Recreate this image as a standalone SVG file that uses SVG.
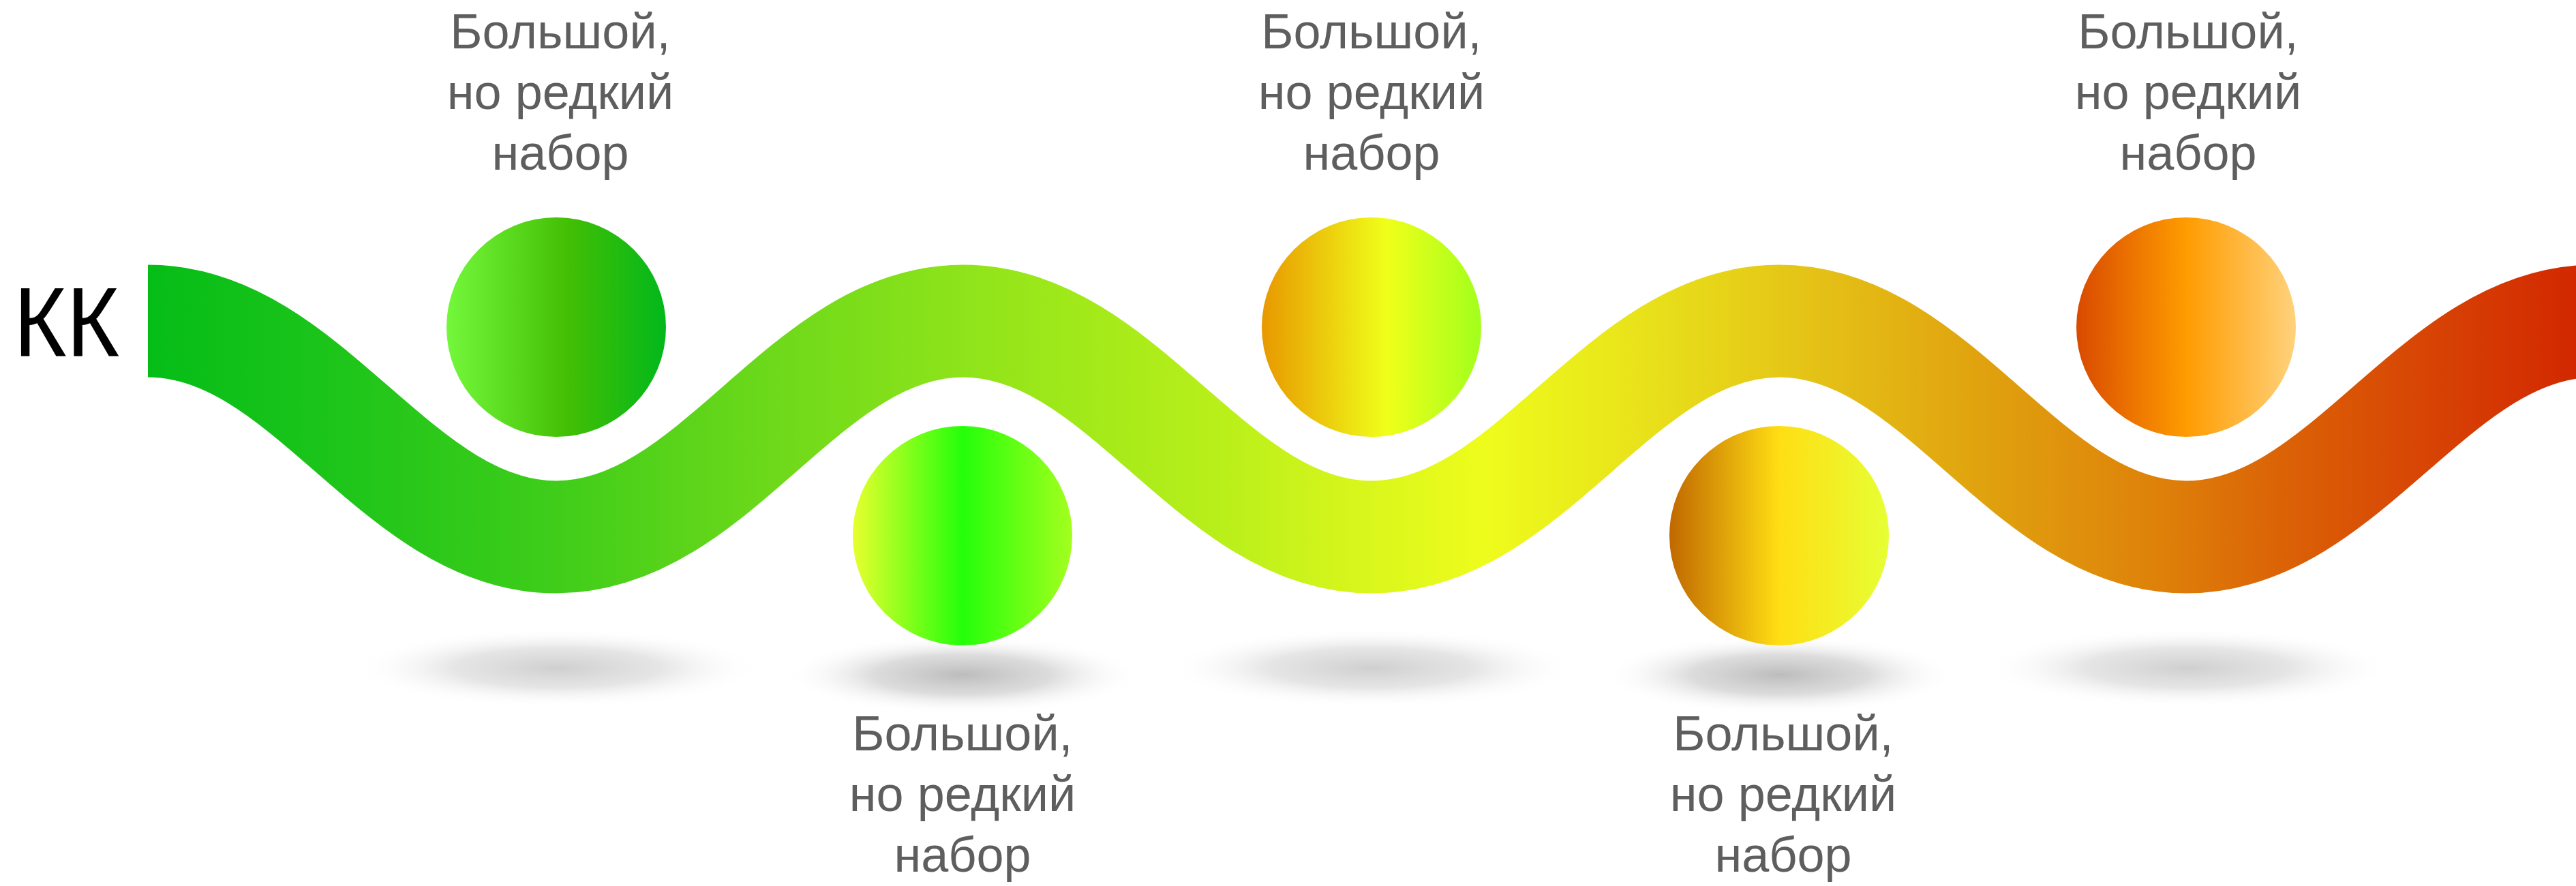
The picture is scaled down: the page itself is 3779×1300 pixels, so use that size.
<svg xmlns="http://www.w3.org/2000/svg" width="3779" height="1300" viewBox="0 0 3779 1300">
<style>
.lbl{font-family:"Liberation Sans",Arial,sans-serif;font-size:72px;fill:#5e5e5e;text-anchor:middle}
.kk{font-family:"Liberation Sans",Arial,sans-serif;font-size:145px;fill:#000}
</style>
<defs>
<linearGradient id="band" gradientUnits="userSpaceOnUse" x1="217" y1="0" x2="3779" y2="0">
<stop offset="0" stop-color="#05bd17"/>
<stop offset="0.08" stop-color="#1ec51a"/>
<stop offset="0.17" stop-color="#40cd1a"/>
<stop offset="0.25" stop-color="#6ad81a"/>
<stop offset="0.34" stop-color="#90e41a"/>
<stop offset="0.44" stop-color="#b8ef1a"/>
<stop offset="0.50" stop-color="#d8f61c"/>
<stop offset="0.55" stop-color="#eefc1c"/>
<stop offset="0.62" stop-color="#e8e01a"/>
<stop offset="0.69" stop-color="#e4c016"/>
<stop offset="0.76" stop-color="#e0a00e"/>
<stop offset="0.83" stop-color="#de800a"/>
<stop offset="0.88" stop-color="#db6206"/>
<stop offset="0.93" stop-color="#d84805"/>
<stop offset="1" stop-color="#d22800"/>
</linearGradient>
<linearGradient id="c1"><stop offset="0" stop-color="#74f83c"/><stop offset="0.55" stop-color="#43bf04"/><stop offset="1" stop-color="#02b81b"/></linearGradient>
<linearGradient id="c2"><stop offset="0" stop-color="#e8ff2e"/><stop offset="0.5" stop-color="#24ff0a"/><stop offset="1" stop-color="#a4ff1e"/></linearGradient>
<linearGradient id="c3"><stop offset="0" stop-color="#e89800"/><stop offset="0.57" stop-color="#f0ff1a"/><stop offset="1" stop-color="#a2ff1c"/></linearGradient>
<linearGradient id="c4"><stop offset="0" stop-color="#c06800"/><stop offset="0.5" stop-color="#ffde14"/><stop offset="1" stop-color="#e6ff34"/></linearGradient>
<linearGradient id="c5"><stop offset="0" stop-color="#d84a00"/><stop offset="0.5" stop-color="#ff9c00"/><stop offset="1" stop-color="#ffd27c"/></linearGradient>
<radialGradient id="shL"><stop offset="0" stop-color="#cfcfcf" stop-opacity="1"/><stop offset="0.5" stop-color="#dadada" stop-opacity="0.7"/><stop offset="1" stop-color="#ffffff" stop-opacity="0"/></radialGradient>
<radialGradient id="shD"><stop offset="0" stop-color="#bcbcbc" stop-opacity="1"/><stop offset="0.5" stop-color="#cdcdcd" stop-opacity="0.7"/><stop offset="1" stop-color="#ffffff" stop-opacity="0"/></radialGradient>
</defs>
<rect width="3779" height="1300" fill="#ffffff"/>

<g id="connectors">
<path d="M217,471 C452,471 581,788 816,788 S1178,471 1413,471 S1777,788 2012,788 S2375,471 2610,471 S2972,788 3207,788 S3571,471 3806,471" fill="none" stroke="url(#band)" stroke-width="165" stroke-linecap="butt"/>
</g>

<g id="start">
<text class="kk" x="20" y="523" textLength="155" lengthAdjust="spacingAndGlyphs">КК</text>
</g>

<g id="node1">
<ellipse cx="818" cy="980" rx="300" ry="58" fill="url(#shL)"/>
<circle cx="816" cy="480" r="161" fill="url(#c1)"/>
<text class="lbl" x="822" y="71">Большой,</text>
<text class="lbl" x="822" y="160">но редкий</text>
<text class="lbl" x="822" y="249">набор</text>
</g>

<g id="node2">
<ellipse cx="1412" cy="990" rx="260" ry="58" fill="url(#shD)"/>
<circle cx="1412" cy="786" r="161" fill="url(#c2)"/>
<text class="lbl" x="1412" y="1101">Большой,</text>
<text class="lbl" x="1412" y="1190">но редкий</text>
<text class="lbl" x="1412" y="1279">набор</text>
</g>

<g id="node3">
<ellipse cx="2012" cy="980" rx="300" ry="58" fill="url(#shL)"/>
<circle cx="2012" cy="480" r="161" fill="url(#c3)"/>
<text class="lbl" x="2012" y="71">Большой,</text>
<text class="lbl" x="2012" y="160">но редкий</text>
<text class="lbl" x="2012" y="249">набор</text>
</g>

<g id="node4">
<ellipse cx="2611" cy="990" rx="260" ry="58" fill="url(#shD)"/>
<circle cx="2610" cy="786" r="161" fill="url(#c4)"/>
<text class="lbl" x="2616" y="1101">Большой,</text>
<text class="lbl" x="2616" y="1190">но редкий</text>
<text class="lbl" x="2616" y="1279">набор</text>
</g>

<g id="node5">
<ellipse cx="3210" cy="980" rx="300" ry="58" fill="url(#shL)"/>
<circle cx="3207" cy="480" r="161" fill="url(#c5)"/>
<text class="lbl" x="3210" y="71">Большой,</text>
<text class="lbl" x="3210" y="160">но редкий</text>
<text class="lbl" x="3210" y="249">набор</text>
</g>
</svg>
